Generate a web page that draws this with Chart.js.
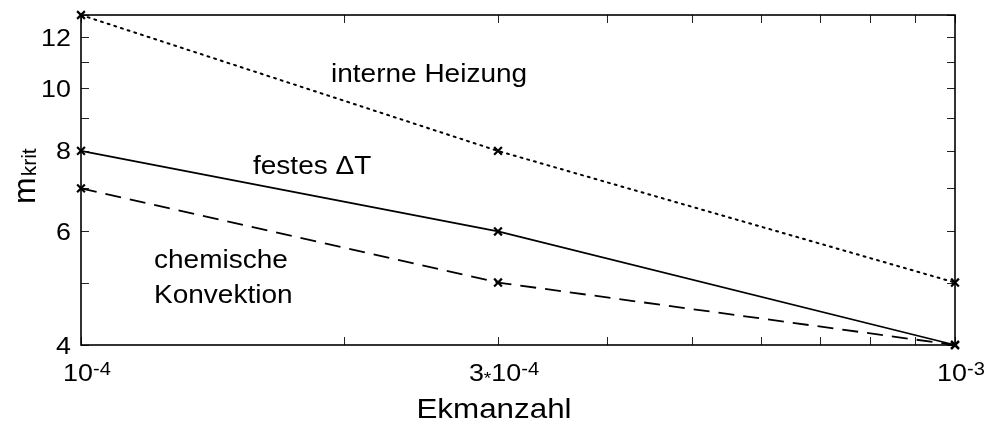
<!DOCTYPE html>
<html>
<head>
<meta charset="utf-8">
<script src="https://cdn.jsdelivr.net/npm/chart.js@4.4.1/dist/chart.umd.min.js"></script>
<style>
  html, body { margin: 0; padding: 0; background: #fff; }
  #wrap { width: 987px; height: 425px; position: relative; }
</style>
</head>
<body>
<div id="wrap"><canvas id="c"></canvas></div>
<script>
// Ekman numbers at which the critical wave number was computed
const ekman = [1e-4, 3e-4, 1e-3];
// critical wave number m_krit for each heating mode
const interneHeizung = [13, 8, 5];
const festesDeltaT = [8, 6, 4];
const chemischeKonvektion = [7, 5, 4];

// axis tick positions (log axes, marks inside the frame)
const xTickValues = [1e-4, 2e-4, 3e-4, 4e-4, 5e-4, 6e-4, 7e-4, 8e-4, 9e-4, 1e-3];
const yTickValues = [4, 5, 6, 7, 8, 9, 10, 11, 12, 13];
// labelled ticks: [value, prefactor, base text, exponent text]
const xTickLabels = [[1e-4, '', '10', '-4'], [3e-4, '3', '10', '-4'], [1e-3, '', '10', '-3']];
const yTickLabels = [4, 6, 8, 10, 12];

const FONT = '"Liberation Sans", Arial, Helvetica, sans-serif';
const SX = 1.12; // horizontal text stretch

function textW(ctx, str, size) {
  ctx.font = size + 'px ' + FONT;
  return ctx.measureText(str).width * SX;
}
function drawText(ctx, str, x, y, size) {
  ctx.save();
  ctx.font = size + 'px ' + FONT;
  ctx.textAlign = 'left';
  ctx.textBaseline = 'alphabetic';
  ctx.translate(x, y);
  ctx.scale(SX, 1);
  ctx.fillText(str, 0, 0);
  ctx.restore();
}

const framePlugin = {
  id: 'frame',
  beforeDatasetsDraw(chart) {
    const { ctx, chartArea: a, scales } = chart;
    ctx.save();
    // inner tick marks
    ctx.strokeStyle = '#222';
    ctx.lineWidth = 1;
    const tl = 8;
    ctx.beginPath();
    xTickValues.forEach(v => {
      const px = Math.round(scales.x.getPixelForValue(v)) + 0.5;
      ctx.moveTo(px, a.bottom); ctx.lineTo(px, a.bottom - tl);
      ctx.moveTo(px, a.top); ctx.lineTo(px, a.top + tl);
    });
    yTickValues.forEach(v => {
      const py = Math.round(scales.y.getPixelForValue(v)) + 0.5;
      ctx.moveTo(a.left, py); ctx.lineTo(a.left + tl, py);
      ctx.moveTo(a.right, py); ctx.lineTo(a.right - tl, py);
    });
    ctx.stroke();
    // frame
    ctx.strokeStyle = '#000';
    ctx.lineWidth = 1.6;
    ctx.strokeRect(a.left, a.top, a.right - a.left, a.bottom - a.top);
    ctx.restore();
  },
  afterDraw(chart) {
    const { ctx, chartArea: a, scales } = chart;
    ctx.save();
    ctx.fillStyle = '#000';
    // y tick labels
    yTickLabels.forEach(v => {
      const py = scales.y.getPixelForValue(v);
      const s = String(v);
      const w = textW(ctx, s, 24);
      drawText(ctx, s, a.left - 10 - w, py + 8.5, 24);
    });
    // x tick labels: optional prefactor, small asterisk, base and exponent
    xTickLabels.forEach(([v, pre, base, exp]) => {
      const px = scales.x.getPixelForValue(v);
      const wp = pre ? textW(ctx, pre, 24) : 0;
      const ws = pre ? textW(ctx, '*', 17) : 0;
      const wb = textW(ctx, base, 24);
      const we = textW(ctx, exp, 18);
      const x0 = px + 6 - (wp + ws + wb + we) / 2;
      const yb = a.bottom + 36;
      if (pre) {
        drawText(ctx, pre, x0, yb, 24);
        drawText(ctx, '*', x0 + wp, yb + 3, 17);
      }
      drawText(ctx, base, x0 + wp + ws, yb, 24);
      drawText(ctx, exp, x0 + wp + ws + wb, a.bottom + 30, 18);
    });
    // axis titles
    const xt = 'Ekmanzahl';
    const wx = textW(ctx, xt, 28);
    drawText(ctx, xt, 494 - wx / 2, a.bottom + 73, 28);

    ctx.save();
    ctx.translate(35, 204);
    ctx.rotate(-Math.PI / 2);
    ctx.font = '32px ' + FONT;
    ctx.fillText('m', 0, 0);
    const wm = ctx.measureText('m').width;
    ctx.font = '21px ' + FONT;
    ctx.fillText('krit', wm + 1, 1);
    ctx.restore();

    // curve annotations
    drawText(ctx, 'interne Heizung', 331, 82, 25);
    drawText(ctx, 'festes \u0394T', 253, 174, 25);
    drawText(ctx, 'chemische', 154, 268, 25);
    drawText(ctx, 'Konvektion', 154, 303, 25);
    ctx.restore();
  }
};

function series(values) {
  return ekman.map((x, i) => ({ x, y: values[i] }));
}

const common = {
  borderColor: '#000',
  backgroundColor: '#000',
  borderWidth: 1.8,
  pointStyle: 'crossRot',
  pointRadius: 5.5,
  pointBorderWidth: 2.2,
  pointBorderColor: '#000',
  tension: 0,
  fill: false,
  clip: false
};

new Chart(document.getElementById('c'), {
  type: 'line',
  data: {
    datasets: [
      Object.assign({ label: 'interne Heizung', data: series(interneHeizung), borderDash: [2, 5], borderCapStyle: 'round' }, common, { borderWidth: 2 }),
      Object.assign({ label: 'festes \u0394T', data: series(festesDeltaT) }, common),
      Object.assign({ label: 'chemische Konvektion', data: series(chemischeKonvektion), borderDash: [16, 9] }, common)
    ]
  },
  options: {
    responsive: true,
    maintainAspectRatio: false,
    animation: false,
    devicePixelRatio: 1,
    layout: { padding: { left: 81, right: 32, top: 15, bottom: 80 } },
    plugins: { legend: { display: false }, tooltip: { enabled: false } },
    scales: {
      x: { type: 'logarithmic', min: 1e-4, max: 1e-3, display: false },
      y: { type: 'logarithmic', min: 4, max: 13, display: false }
    }
  },
  plugins: [framePlugin]
});
</script>
</body>
</html>
